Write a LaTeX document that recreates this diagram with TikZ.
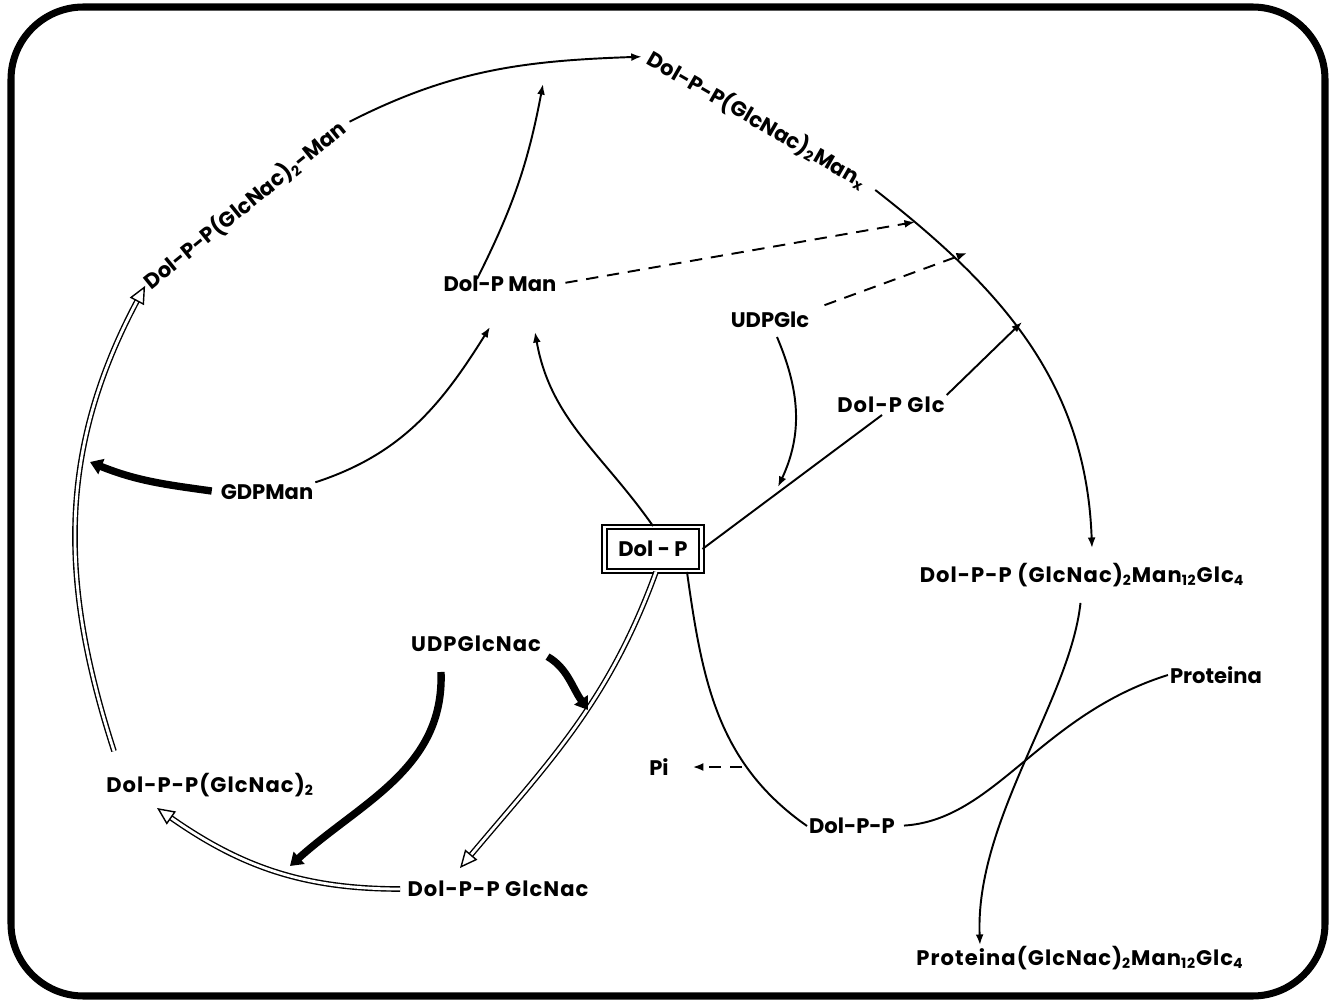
\documentclass[tikz,border=0pt]{standalone}
\usepackage{fontspec}
\setmainfont{Poppins}
\newfontfamily\widefont{Poppins}[LetterSpace=5]
\usetikzlibrary{arrows.meta}

\begin{document}
\begin{tikzpicture}[x=0.02cm,y=0.02cm,
    lbl/.style={font=\bfseries\fontsize{12}{14}\selectfont, inner sep=1pt},
    widelbl/.style={lbl, font=\widefont\bfseries\fontsize{12}{14}\selectfont},
    thinln/.style={line width=1.1pt},
    thinarr/.style={line width=1.1pt, -{Latex[length=6pt,width=4.5pt]}},
    dsharr/.style={line width=1.1pt, dash pattern=on 7pt off 5pt, -{Latex[length=6pt,width=4.5pt]}},
    heavyarr/.style={line width=4.2pt, -{Triangle[length=7pt,width=9pt]}},
    dblarr/.style={double, double distance=1.6pt, line width=0.8pt, -{Triangle[open,length=10pt,width=9pt]}}]
  \useasboundingbox (0,0) rectangle (1336,-1003);
  % frame
  \draw[line width=4pt, rounded corners=1.45cm] (11,-7) rectangle (1325,-996);
  % compounds
  \node[lbl, draw, line width=1.1pt, double, double distance=1.6pt,
        minimum width=1.94cm, minimum height=0.88cm] (dolp) at (653,-549) {Dol - P};
  \node[lbl, rotate=39] (tlman) at (245,-205) {Dol-P-P(GlcNac)\textsubscript{2}-Man};
  \node[lbl, rotate=-30] (manx) at (757,-120) {Dol-P-P(GlcNac)\textsubscript{2}Man\textsubscript{x}};
  \node[lbl] (dolpman) at (500,-284) {Dol-P Man};
  \node[lbl] (udpglc) at (770,-320) {UDPGlc};
  \node[widelbl] (dolpglc) at (891,-405) {Dol-P Glc};
  \node[lbl] (gdpman) at (267,-492) {GDPMan};
  \node[widelbl] (manglc) at (1082,-575) {Dol-P-P (GlcNac)\textsubscript{2}Man\textsubscript{12}Glc\textsubscript{4}};
  \node[widelbl] (udpglcnac) at (476,-644) {UDPGlcNac};
  \node[lbl] (proteina) at (1216,-675) {Proteina};
  \node[lbl] (pi) at (659,-767) {Pi};
  \node[widelbl] (dolppglcnac2) at (210,-785) {Dol-P-P(GlcNac)\textsubscript{2}};
  \node[lbl] (dolpp) at (852,-826) {Dol-P-P};
  \node[widelbl] (dolppglcnac) at (498,-889) {Dol-P-P GlcNac};
  \node[widelbl] (protglc) at (1080,-958) {Proteina(GlcNac)\textsubscript{2}Man\textsubscript{12}Glc\textsubscript{4}};
  % free ends of the arrows
  \coordinate (mjoin) at (543,-84);
  \coordinate (mantip1) at (490,-327);
  \coordinate (mantip2) at (535,-332);
  \coordinate (gdptip) at (90,-462);
  \coordinate (dsh1) at (915,-222);
  \coordinate (dsh2) at (967,-253);
  \coordinate (glctip) at (778,-487);
  \coordinate (glcjoin) at (1022,-322);
  \coordinate (glc4tip) at (1092,-548);
  \coordinate (prottip) at (980,-945);
  \coordinate (pijoin) at (742,-767);
  \coordinate (glcnactip) at (460,-868);
  \coordinate (glcnac2tip) at (157,-808);
  \coordinate (hv1tip) at (290,-866);
  \coordinate (hv2tip) at (588,-710);
  % mannose branch
  \draw[thinarr, shorten <=3pt, shorten >=3pt] (tlman.east) to[out=27,in=182] (manx.west);
  \draw[thinarr] ([xshift=-0.46cm,yshift=-0.1cm]dolpman.north) to[bend right=8] (mjoin);
  \draw[thinarr] (gdpman.north east) to[out=18,in=-122] (mantip1);
  \draw[heavyarr, shorten <=4pt] (gdpman.west) to[out=172,in=-22] (gdptip);
  \draw[thinarr] (dolp.north) to[out=125,in=-80] (mantip2);
  \draw[dsharr, shorten <=4pt] (dolpman.east) -- (dsh1);
  % glucose branch
  \draw[dsharr, shorten <=8pt] (udpglc.north east) -- (dsh2);
  \draw[thinarr] ([xshift=0.14cm,yshift=-0.14cm]udpglc.south) to[out=-67,in=65] (glctip);
  \draw[thinln] (dolp.east) -- ([xshift=-0.18cm]dolpglc.south);
  \draw[thinarr] (dolpglc.north east) -- (glcjoin);
  \draw[thinarr, shorten <=6pt] (manx.east) to[out=-38,in=92] (glc4tip);
  % transfer to the protein
  \draw[thinarr, shorten <=8pt] (manglc.south) .. controls (1070,-700) and (975,-820) .. (prottip);
  \draw[thinln, shorten <=4pt] (dolpp.east) .. controls (995,-820) and (1040,-715) .. (proteina.west);
  \draw[thinln] ([xshift=0.68cm]dolp.south) to[out=-82,in=145] (dolpp.west);
  \draw[dsharr] (pijoin) -- ([xshift=0.44cm]pi.east);
  % GlcNac branch
  \draw[dblarr] ([xshift=0.06cm]dolp.south) to[out=-110,in=50] (glcnactip);
  \draw[dblarr, shorten <=3pt] (dolppglcnac.west) to[out=180,in=-35] (glcnac2tip);
  \draw[dblarr] ([xshift=-1.92cm,yshift=0.4cm]dolppglcnac2.north) to[out=108,in=-118] (tlman.west);
  \draw[heavyarr] ([xshift=-0.7cm,yshift=-0.36cm]udpglcnac.south) to[out=-88,in=42] (hv1tip);
  \draw[heavyarr, shorten <=3pt] (udpglcnac.south east) to[out=-30,in=125] (hv2tip);
\end{tikzpicture}
\end{document}
